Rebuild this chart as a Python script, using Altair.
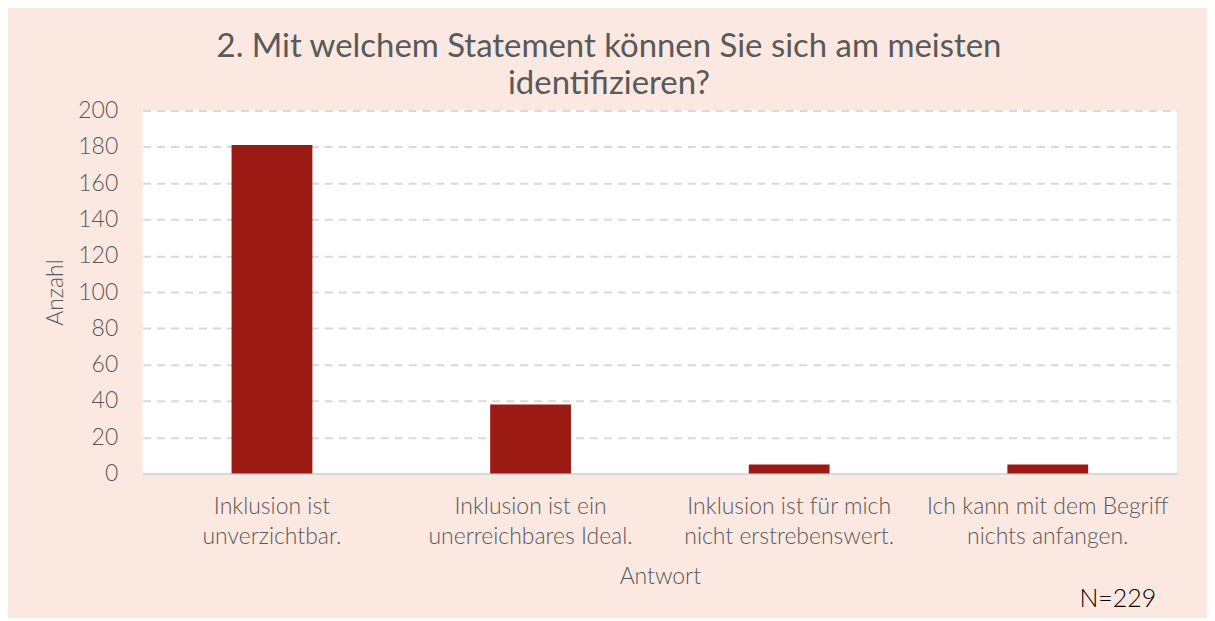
import altair as alt
import pandas as pd

categories = [
    "Inklusion ist\nunverzichtbar.",
    "Inklusion ist ein\nunerreichbares Ideal.",
    "Inklusion ist für mich\nnicht erstrebenswert.",
    "Ich kann mit dem Begriff\nnichts anfangen.",
]
counts = [181, 38, 5, 5]
note = "N=229"

FONT = "Lato, Liberation Sans, sans-serif"
TXT = "#595959"

df = pd.DataFrame({"Antwort": categories, "Anzahl": counts})

bars = alt.Chart(df).mark_bar(size=81, color="#9B1B14").encode(
    x=alt.X(
        "Antwort:N",
        sort=None,
        scale=alt.Scale(paddingInner=0, paddingOuter=0),
        axis=alt.Axis(
            title="Antwort",
            labelAngle=0,
            labelExpr="split(datum.label, '\\n')",
            labelFont=FONT,
            labelFontSize=23,
            labelFontWeight=300,
            labelLimit=0,
            labelLineHeight=30,
            labelColor=TXT,
            labelPadding=22,
            labelBaseline="top",
            ticks=False,
            domain=True,
            domainColor="#d9d9d9",
            domainWidth=2,
            titleFont=FONT,
            titleFontSize=23,
            titleFontWeight=300,
            titleColor=TXT,
            titlePadding=17,
        ),
    ),
    y=alt.Y(
        "Anzahl:Q",
        scale=alt.Scale(domain=[0, 200]),
        axis=alt.Axis(
            title="Anzahl",
            values=list(range(0, 201, 20)),
            labelFont=FONT,
            labelFontSize=23,
            labelFontWeight=300,
            labelColor=TXT,
            labelPadding=25,
            ticks=False,
            domain=False,
            grid=True,
            gridColor="#d9d9d9",
            gridDash=[8, 6],
            gridWidth=2,
            titleFont=FONT,
            titleFontSize=23,
            titleFontWeight=300,
            titleColor=TXT,
            titlePadding=10,
        ),
    ),
)

ntext = alt.Chart(pd.DataFrame({"t": [note]})).mark_text(
    font=FONT, fontSize=25, fontWeight=300, color="#000000", align="right", baseline="bottom"
).encode(text="t:N", x=alt.value(1016), y=alt.value(503))

chart = (
    alt.layer(bars, ntext)
    .properties(
        width=1037,
        height=364,
        background="#FAE8E1",
        padding={"left": 135, "top": 102, "right": 30, "bottom": 144},
        autosize=alt.AutoSizeParams(type="none"),
        title=alt.TitleParams(
            text=["2. Mit welchem Statement können Sie sich am meisten", "identifizieren?"],
            font=FONT,
            fontSize=33,
            fontWeight="normal",
            color=TXT,
            anchor="middle",
            lineHeight=37,
            offset=-1,
            dx=-51,
        ),
    )
    .configure_view(fill="white", stroke=None)
)

chart.save("out.html", embed_options={"renderer": "svg", "actions": False})
